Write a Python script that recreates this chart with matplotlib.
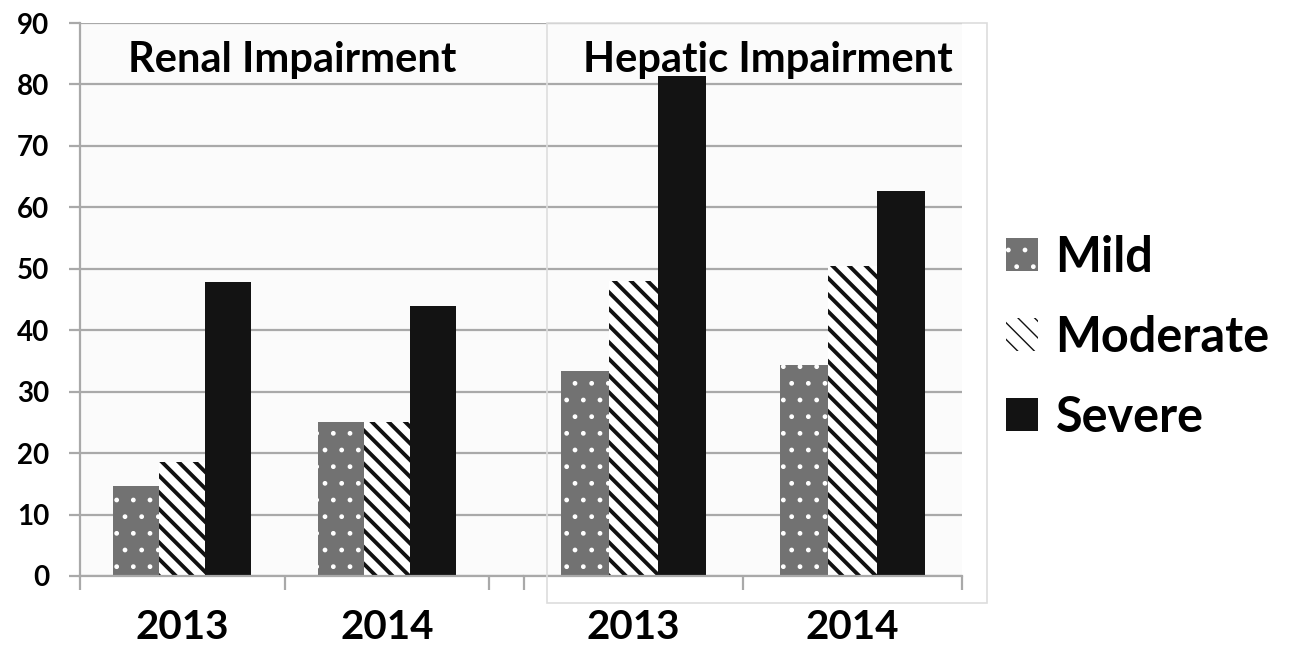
import matplotlib.pyplot as plt
from matplotlib.patches import Patch, Rectangle

plt.rcParams['font.family'] = ['Lato', 'DejaVu Sans']
plt.rcParams['font.weight'] = 'bold'

years = ['2013', '2014']
series = ['Mild', 'Moderate', 'Severe']
renal = {'Mild': [14.7, 25.0], 'Moderate': [18.5, 25.0], 'Severe': [47.8, 44.0]}
hepatic = {'Mild': [33.4, 34.3], 'Moderate': [48.0, 50.4], 'Severe': [81.3, 62.6]}
yticks = [0, 10, 20, 30, 40, 50, 60, 70, 80, 90]

styles = {
    'Mild': dict(facecolor='#727272', edgecolor='white', hatch='.', lw=0, hlw=1.0),
    'Moderate': dict(facecolor='white', edgecolor='#111111', hatch='\\\\', lw=0, hlw=2.8),
    'Severe': dict(facecolor='#131313', edgecolor='#131313', hatch=None, lw=0, hlw=1.0),
}

W, H = 1297, 656
fig = plt.figure(figsize=(W / 100, H / 100), dpi=100)
fig.patch.set_facecolor('white')

grid_c = '#a9a9a9'


def panel(rect, data, xmax, bar_w, title, title_x, show_y):
    ax = fig.add_axes(rect)
    ax.set_facecolor('#fbfbfb')
    ax.set_xlim(0, xmax)
    ax.set_ylim(0, 90)
    ax.set_yticks(yticks)
    ax.yaxis.grid(True, color=grid_c, lw=1.6)
    ax.set_axisbelow(True)
    for s in ['top', 'right']:
        ax.spines[s].set_visible(False)
    ax.spines['bottom'].set_color(grid_c)
    ax.spines['bottom'].set_linewidth(1.6)
    ax.spines['left'].set_color(grid_c)
    ax.spines['left'].set_linewidth(1.6)
    if show_y:
        ax.tick_params(axis='y', length=8, width=1.6, color=grid_c,
                       labelsize=20, pad=14)
    else:
        ax.spines['left'].set_visible(False)
        ax.tick_params(axis='y', length=0, labelleft=False)

    # category boundaries as major ticks, year labels on minor ticks
    ax.set_xticks([0, 1, 2])
    ax.set_xticklabels([])
    ax.tick_params(axis='x', which='major', length=10, width=1.6, color=grid_c)
    ax.set_xticks([0.5, 1.5], minor=True)
    ax.set_xticklabels(years, minor=True)
    ax.tick_params(axis='x', which='minor', length=0, labelsize=29, pad=24)

    for i, name in enumerate(series):
        st = styles[name]
        with plt.rc_context({'hatch.linewidth': st['hlw']}):
            bars = ax.bar([c + (i - 1) * bar_w for c in (0.5, 1.5)], data[name],
                          width=bar_w, facecolor=st['facecolor'],
                          edgecolor=st['edgecolor'], hatch=st['hatch'],
                          linewidth=st['lw'])
            for b in bars:
                if hasattr(b, 'set_hatch_linewidth'):
                    b.set_hatch_linewidth(st['hlw'])

    ax.text(title_x, 84.0, title, ha='center', va='center', fontsize=30,
            fontweight='bold', clip_on=False)
    return ax


y0, y1 = 576, 23
bottom = (H - y0) / H
height = (y0 - y1) / H

ax1 = panel([80 / W, bottom, (524 - 80) / W, height], renal,
            (524 - 80) / 204.5, 0.225, 'Renal Impairment',
            (292 - 80) / 204.5, True)
ax2 = panel([524 / W, bottom, (962 - 524) / W, height], hepatic,
            2.0, 0.22, 'Hepatic Impairment', (768 - 524) / 219, False)

# faint frame round the second chart
fig.patches.append(Rectangle((547 / W, (H - 603) / H), (987 - 547) / W,
                             (603 - 23) / H, transform=fig.transFigure,
                             fill=False, edgecolor='#dddddd', lw=1.2,
                             zorder=0))

handles = []
for name in series:
    st = styles[name]
    with plt.rc_context({'hatch.linewidth': st['hlw']}):
        p = Patch(facecolor=st['facecolor'], edgecolor=st['edgecolor'],
                  hatch=st['hatch'], linewidth=0, label=name)
        if hasattr(p, 'set_hatch_linewidth'):
            p.set_hatch_linewidth(st['hlw'])
    handles.append(p)

fig.legend(handles=handles, loc='center left',
           bbox_to_anchor=(1006 / W, (H - 337) / H), frameon=False,
           fontsize=35, handlelength=0.66, handleheight=0.66,
           handletextpad=0.36, labelspacing=0.72, borderpad=0,
           borderaxespad=0)

fig.savefig('out.png', dpi=100)
